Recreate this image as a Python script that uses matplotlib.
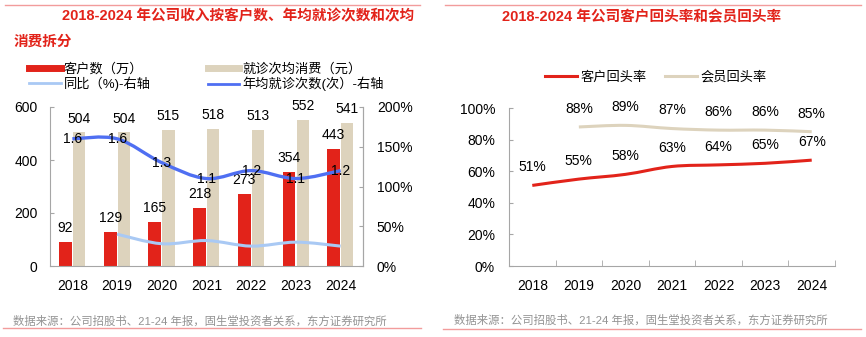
import numpy as np
import matplotlib
matplotlib.use('Agg')
import matplotlib.pyplot as plt
from matplotlib.path import Path
from matplotlib.patches import PathPatch
from matplotlib.lines import Line2D
from matplotlib.ticker import FuncFormatter

plt.rcParams['font.family'] = ['Liberation Sans', 'Noto Sans CJK SC', 'DejaVu Sans']
plt.rcParams['axes.unicode_minus'] = False

# 数据
years = ['2018', '2019', '2020', '2021', '2022', '2023', '2024']
customers = [92, 129, 165, 218, 273, 354, 443]          # 客户数（万）
spend = [504, 504, 515, 518, 513, 552, 541]             # 就诊次均消费（元）
yoy = [None, 0.40, 0.28, 0.32, 0.25, 0.30, 0.25]        # 同比
visits = [1.6, 1.6, 1.3, 1.1, 1.2, 1.1, 1.2]            # 年均就诊次数（次）
cust_return = [0.51, 0.55, 0.58, 0.63, 0.64, 0.65, 0.67]  # 客户回头率
member_return = [None, 0.88, 0.89, 0.87, 0.86, 0.86, 0.85]  # 会员回头率

RED = '#e2231a'
TAN = '#ddd3bd'
BLUE = '#4f6ff2'
LBLUE = '#a9c9f4'
GRAY = '#a6a6a6'
W, H = 866, 337


def smooth(ax, xs, ys, color, lw):
    # 平滑曲线（Catmull-Rom 转三次贝塞尔）
    pts = [(x, y) for x, y in zip(xs, ys) if y is not None]
    p = np.array(pts, dtype=float)
    verts = [tuple(p[0])]
    codes = [Path.MOVETO]
    n = len(p)
    for i in range(n - 1):
        p0 = p[i - 1] if i > 0 else p[i]
        p3 = p[i + 2] if i + 2 < n else p[i + 1]
        c1 = p[i] + (p[i + 1] - p0) / 6
        c2 = p[i + 1] - (p3 - p[i]) / 6
        verts += [tuple(c1), tuple(c2), tuple(p[i + 1])]
        codes += [Path.CURVE4] * 3
    patch = PathPatch(Path(verts, codes), facecolor='none', edgecolor=color,
                      lw=lw, capstyle='butt', transform=ax.transData, zorder=3)
    ax.add_patch(patch)


fig = plt.figure(figsize=(W / 100, H / 100), dpi=100)

# ---------------- 左图 ----------------
x = np.arange(len(years))
ax1 = fig.add_axes([50 / W, 71 / H, 313 / W, 159 / H])
b1 = ax1.bar(x - 0.155, customers, width=0.29, color=RED, zorder=2)
b2 = ax1.bar(x + 0.15, spend, width=0.27, color=TAN, zorder=2)
ax1.set_xlim(-0.5, 6.5)
ax1.set_ylim(0, 600)
ax1.set_yticks([0, 200, 400, 600])
ax1.set_xticks(x)
ax1.set_xticklabels(years)
ax1.tick_params(axis='x', length=0, pad=9, labelsize=10)
ax1.tick_params(axis='y', direction='in', length=3, color=GRAY, pad=9, labelsize=10)
for s in ['top']:
    ax1.spines[s].set_visible(False)
for s in ['left', 'bottom', 'right']:
    ax1.spines[s].set_color(GRAY)

for xi, v in zip(x, customers):
    ax1.annotate(str(v), (xi - 0.155, v), xytext=(0, 10), textcoords='offset points',
                 ha='center', va='center', fontsize=10, zorder=5)
for xi, v in zip(x, spend):
    ax1.annotate(str(v), (xi + 0.15, v), xytext=(0, 10), textcoords='offset points',
                 ha='center', va='center', fontsize=10, zorder=5)

ax2 = ax1.twinx()
ax2.set_ylim(0, 2.0)
ax2.set_yticks([0, 0.5, 1.0, 1.5, 2.0])
ax2.yaxis.set_major_formatter(FuncFormatter(lambda v, _: '{:.0f}%'.format(v * 100)))
ax2.tick_params(axis='y', direction='in', length=3, color=GRAY, pad=10, labelsize=10)
for s in ['top', 'left', 'bottom']:
    ax2.spines[s].set_visible(False)
ax2.spines['right'].set_color(GRAY)
smooth(ax2, x, yoy, LBLUE, 2.2)
smooth(ax2, x, visits, BLUE, 2.4)
for xi, v in zip(x, visits):
    ax2.text(xi, v, '{:.1f}'.format(v), ha='center', va='center', fontsize=10, zorder=5)

h_left = [Line2D([], [], color=RED, lw=5), Line2D([], [], color=LBLUE, lw=2),
          Line2D([], [], color=TAN, lw=5), Line2D([], [], color=BLUE, lw=2)]
l_left = ['客户数（万）', '同比（%)-右轴', '就诊次均消费（元）', '年均就诊次数(次）-右轴']
fig.legend(h_left, l_left, ncol=2, loc='center left', bbox_to_anchor=(29 / W, 1 - 77 / H),
           frameon=False, fontsize=9.5, handlelength=2.4, handletextpad=0.25,
           columnspacing=4.3, labelspacing=0.1, borderpad=0, borderaxespad=0)

fig.text(62 / W, 1 - 16 / H, '2018-2024 年公司收入按客户数、年均就诊次数和次均',
         color=RED, fontsize=10.5, fontweight='bold', ha='left', va='center')
fig.text(14 / W, 1 - 42 / H, '消费拆分', color=RED, fontsize=10.5, fontweight='bold',
         ha='left', va='center')

# ---------------- 右图 ----------------
ax3 = fig.add_axes([509 / W, 71 / H, 326 / W, 158 / H])
ax3.set_xlim(-0.5, 6.5)
ax3.set_ylim(0, 1.0)
ax3.set_yticks(np.arange(0, 1.01, 0.2))
ax3.yaxis.set_major_formatter(FuncFormatter(lambda v, _: '{:.0f}%'.format(v * 100)))
ax3.set_xticks(x)
ax3.set_xticklabels(years)
ax3.set_xticks(np.arange(0.5, 7, 1.0), minor=True)
ax3.tick_params(axis='x', which='major', length=0, pad=9, labelsize=10)
ax3.tick_params(axis='x', which='minor', direction='in', length=4, color=GRAY)
ax3.tick_params(axis='y', direction='in', length=3, color=GRAY, pad=10, labelsize=10)
for s in ['top', 'right']:
    ax3.spines[s].set_visible(False)
for s in ['left', 'bottom']:
    ax3.spines[s].set_color(GRAY)

smooth(ax3, x, cust_return, RED, 2.2)
smooth(ax3, x, member_return, TAN, 2.2)
for xi, v in zip(x, cust_return):
    ax3.annotate('{:.0f}%'.format(v * 100), (xi, v), xytext=(0, 13), textcoords='offset points',
                 ha='center', va='center', fontsize=10)
for xi, v in zip(x, member_return):
    if v is None:
        continue
    ax3.annotate('{:.0f}%'.format(v * 100), (xi, v), xytext=(0, 13), textcoords='offset points',
                 ha='center', va='center', fontsize=10)

h_right = [Line2D([], [], color=RED, lw=2.2), Line2D([], [], color=TAN, lw=2.2)]
fig.legend(h_right, ['客户回头率', '会员回头率'], ncol=2, loc='center',
           bbox_to_anchor=(656 / W, 1 - 77 / H), frameon=False, fontsize=9.5,
           handlelength=2.4, handletextpad=0.3, columnspacing=1.4, borderpad=0)

fig.text(642 / W, 1 - 17 / H, '2018-2024 年公司客户回头率和会员回头率',
         color=RED, fontsize=10.5, fontweight='bold', ha='center', va='center')

# ---------------- 框线与来源 ----------------
for x0, x1_, y in [(5, 420, 5), (445, 861, 5), (3, 421, 328), (443, 861, 329)]:
    fig.add_artist(Line2D([x0 / W, x1_ / W], [1 - y / H, 1 - y / H], color='#f29c9c', lw=1))
src = '数据来源：公司招股书、21-24 年报，固生堂投资者关系，东方证券研究所'
fig.text(13 / W, 1 - 321 / H, src, color='#939393', fontsize=8.2, ha='left', va='center')
fig.text(454 / W, 1 - 320 / H, src, color='#939393', fontsize=8.2, ha='left', va='center')

fig.savefig('out.png', dpi=100, facecolor='white')
